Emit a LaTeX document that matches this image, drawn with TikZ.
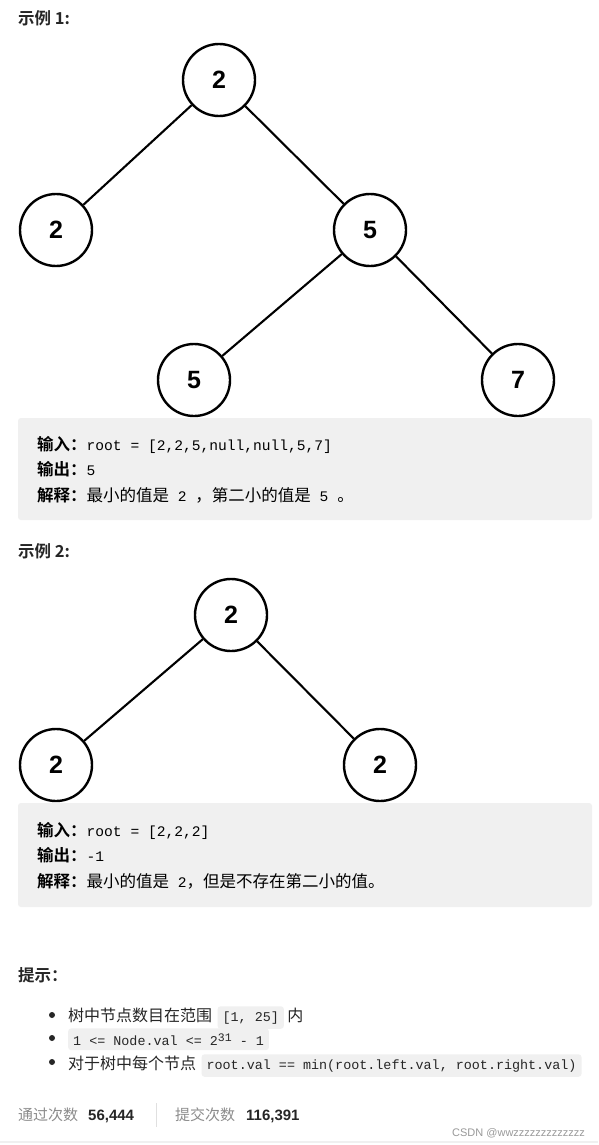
\documentclass[tikz,border=0pt]{standalone}
\usepackage{fontspec}
\usepackage{graphicx}
\setmainfont{Liberation Sans}
\newfontfamily\cjk[BoldFont={Noto Sans CJK SC Bold}]{Noto Sans CJK SC}
\newfontfamily\mono{Liberation Mono}
\newfontfamily\numf{Liberation Sans}
\definecolor{boxgray}{HTML}{F0F0F0}
\definecolor{codegray}{HTML}{F0F0F0}
\definecolor{txt}{HTML}{262626}
\definecolor{lgray}{HTML}{8C8C8C}
\definecolor{wm}{HTML}{999999}
\newcommand{\mc}{\mono\fontsize{14.6}{14.6}\selectfont}
\begin{document}
\begin{tikzpicture}[x=1pt,y=-1pt,
  tnode/.style={circle,draw=black,line width=2.4pt,minimum size=72pt,inner sep=0pt,font=\numf\bfseries\fontsize{25}{25}\selectfont},
  tedge/.style={line width=2.1pt,black},
  ex/.style={anchor=base west,inner sep=0pt,font=\cjk\bfseries\fontsize{16.5}{16.5}\selectfont,text=txt},
  line/.style={anchor=base west,inner sep=0pt,font=\cjk\fontsize{16.5}{16.5}\selectfont,text=black},
  hint/.style={anchor=base west,inner sep=0pt,font=\cjk\fontsize{16}{16}\selectfont,text=txt},
  code/.style={anchor=base west,fill=codegray,rounded corners=3pt,inner xsep=5pt,inner ysep=5pt,font=\mono\fontsize{13.4}{13.4}\selectfont,text=txt},
  stat/.style={anchor=base west,inner sep=0pt,font=\cjk\fontsize{15}{15}\selectfont,text=lgray},
  num/.style={anchor=base west,inner sep=0pt,font=\bfseries\fontsize{15}{15}\selectfont,text=txt},
  bullet/.style={circle,fill=txt,inner sep=0pt,minimum size=6pt}]
\useasboundingbox (0,0) rectangle (598,1145);
\fill[white] (0,0) rectangle (598,1145);

% Example 1
\node[ex] (h1) at (18,25) {示例 1:};
\node[tnode] (a) at (219,80) {2};
\node[tnode] (b) at (56,230) {2};
\node[tnode] (c) at (370,230) {5};
\node[tnode] (d) at (194,380) {5};
\node[tnode] (e) at (518,380) {7};
\draw[tedge] (a) -- (b);
\draw[tedge] (a) -- (c);
\draw[tedge] (c) -- (d);
\draw[tedge] (c) -- (e);

\fill[boxgray,rounded corners=3pt] (18,418) rectangle (592,520);
\node[line] (l1) at (37,450) {\textbf{输入：}{\mc root = [2,2,5,null,null,5,7]}};
\node[line] (l2) at (37,475) {\textbf{输出：}{\mc 5}};
\node[line] (l3) at (37,501) {\textbf{解释：}最小的值是{\mc\ 2\ }，第二小的值是{\mc\ 5\ }。};

% Example 2
\node[ex] (h2) at (18,557) {示例 2:};
\node[tnode] (f) at (231,615) {2};
\node[tnode] (g) at (56,765) {2};
\node[tnode] (h) at (380,765) {2};
\draw[tedge] (f) -- (g);
\draw[tedge] (f) -- (h);

\fill[boxgray,rounded corners=3pt] (18,803) rectangle (592,907);
\node[line] (m1) at (37,836) {\textbf{输入：}{\mc root = [2,2,2]}};
\node[line] (m2) at (37,861) {\textbf{输出：}{\mc -1}};
\node[line] (m3) at (37,887) {\textbf{解释：}最小的值是{\mc\ 2}，但是不存在第二小的值。};

% Hints
\node[ex] (h3) at (18,981) {提示：};
\node[bullet] (b1) at (52,1015) {};
\node[bullet] (b2) at (52,1038) {};
\node[bullet] (b3) at (52,1062) {};
\node[hint] (t1) at (68,1021) {树中节点数目在范围};
\node[code] (c1) at (t1.base east) [xshift=5pt] {[1, 25]};
\node[hint] (t1b) at (c1.base east) [xshift=3pt] {内};
\node[code] (c2) at (68,1045) {1 <= Node.val <= 2\raisebox{0.55ex}{\fontsize{11.5}{11.5}\selectfont 31} - 1};
\node[hint] (t3) at (68,1069) {对于树中每个节点};
\node[code] (c3) at (t3.base east) [xshift=5pt] {root.val == min(root.left.val, root.right.val)};

% Stats
\node[stat] (s1) at (18,1120) {通过次数};
\node[num] (n1) at (88,1120) {56,444};
\draw[draw=black!12,line width=1pt] (156,1103) -- (156,1127);
\node[stat] (s2) at (175,1120) {提交次数};
\node[num] (n2) at (246,1120) {116,391};
\node[anchor=base west,inner sep=0pt,font=\fontsize{11}{11}\selectfont,text=wm] (w) at (452,1136) {CSDN @wwzzzzzzzzzzzzz};
\draw[draw=black!6,line width=1.5pt] (0,1142) -- (598,1142);
\end{tikzpicture}
\end{document}
